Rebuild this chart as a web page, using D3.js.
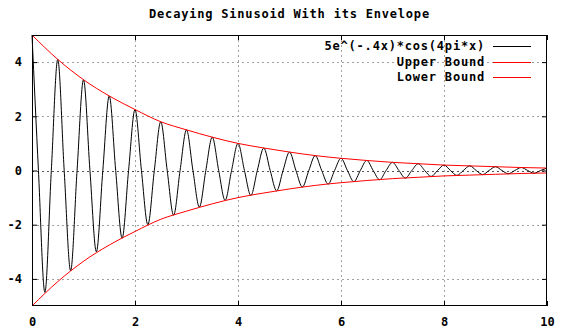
<!DOCTYPE html>
<html>
<head>
<meta charset="utf-8">
<script src="https://cdn.jsdelivr.net/npm/d3@7"></script>
<style>
  body { margin: 0; background: #fff; }
  text { font-family: "DejaVu Sans Mono", "Liberation Mono", monospace; font-weight: bold; }
</style>
</head>
<body>
<div id="chart"></div>
<script>
// values
const waveX = [0,0.125,0.25,0.375,0.5,0.625,0.75,0.875,1,1.125,1.25,1.375,1.5,1.625,1.75,1.875,2,2.125,2.25,2.375,2.5,2.625,2.75,2.875,3,3.125,3.25,3.375,3.5,3.625,3.75,3.875,4,4.125,4.25,4.375,4.5,4.625,4.75,4.875,5,5.125,5.25,5.375,5.5,5.625,5.75,5.875,6,6.125,6.25,6.375,6.5,6.625,6.75,6.875,7,7.125,7.25,7.375,7.5,7.625,7.75,7.875,8,8.125,8.25,8.375,8.5,8.625,8.75,8.875,9,9.125,9.25,9.375,9.5,9.625,9.75,9.875,10];
const waveY = [5,0,-4.5,0,4.1,0,-3.7,0,3.35,0,-3.0,0,2.75,0,-2.5,0,2.25,0,-2.0,0,1.8,0,-1.65,0,1.5,0,-1.35,0,1.23,0,-1.1,0,1.0,0,-0.92,0,0.83,0,-0.75,0,0.68,0,-0.61,0,0.55,0,-0.5,0,0.45,0,-0.41,0,0.37,0,-0.34,0,0.3,0,-0.28,0,0.25,0,-0.22,0,0.2,0,-0.18,0,0.17,0,-0.15,0,0.14,0,-0.12,0,0.11,0,-0.1,0,0.09];
const envX = [0,0.5,1,1.5,2,2.5,3,3.5,4,4.5,5,5.5,6,6.5,7,7.5,8,8.5,9,9.5,10];
const upperY = [5,4.1,3.35,2.75,2.25,1.8,1.5,1.23,1.0,0.83,0.68,0.55,0.45,0.37,0.3,0.25,0.2,0.17,0.14,0.11,0.09];
const lowerY = [-5,-4.1,-3.35,-2.75,-2.25,-1.8,-1.5,-1.23,-1.0,-0.83,-0.68,-0.55,-0.45,-0.37,-0.3,-0.25,-0.2,-0.17,-0.14,-0.11,-0.09];
const xTicks = [0,2,4,6,8,10];
const yTicks = [-4,-2,0,2,4];
const seriesNames = ["5e^(-.4x)*cos(4pi*x)", "Upper Bound", "Lower Bound"];
const seriesColors = ["#000000", "#ff0000", "#ff0000"];
const title = "Decaying Sinusoid With its Envelope";

const width = 562, height = 336;
const margin = {top: 35, right: 15, bottom: 30, left: 32};

const svg = d3.select("#chart").append("svg")
  .attr("width", width)
  .attr("height", height);

const x = d3.scaleLinear().domain([0, 10]).range([margin.left, width - margin.right]);
const y = d3.scaleLinear().domain([-5, 5]).range([height - margin.bottom, margin.top]);

// grid
const grid = svg.append("g").attr("stroke-dasharray", "2,3").attr("stroke-width", 1);
grid.selectAll(".gx")
  .data(xTicks.filter(d => d > 0 && d < 10))
  .enter().append("line")
    .attr("x1", d => Math.round(x(d)) + 0.5).attr("x2", d => Math.round(x(d)) + 0.5)
    .attr("y1", y(5)).attr("y2", y(-5))
    .attr("stroke", "#a0a0a0");
grid.selectAll(".gy")
  .data(yTicks)
  .enter().append("line")
    .attr("x1", x(0)).attr("x2", x(10))
    .attr("y1", d => Math.round(y(d)) + 0.5).attr("y2", d => Math.round(y(d)) + 0.5)
    .attr("stroke", d => d === 0 ? "#555" : "#a0a0a0");

// curves
const wave = waveX.map((d, i) => [d, waveY[i]]);
const upper = envX.map((d, i) => [d, upperY[i]]);
const lower = envX.map((d, i) => [d, lowerY[i]]);
const line = d3.line().x(d => x(d[0])).y(d => y(d[1])).curve(d3.curveMonotoneX);

const plot = svg.append("g");
plot.append("path").datum(wave)
  .attr("d", line).attr("fill", "none").attr("stroke", seriesColors[0]).attr("stroke-width", 1);
plot.append("path").datum(upper)
  .attr("d", line).attr("fill", "none").attr("stroke", seriesColors[1]).attr("stroke-width", 1);
plot.append("path").datum(lower)
  .attr("d", line).attr("fill", "none").attr("stroke", seriesColors[2]).attr("stroke-width", 1);

// axes, ticks pointing inward like gnuplot
const xb = svg.append("g").attr("transform", `translate(0,${y(-5)})`)
  .call(d3.axisBottom(x).tickValues(xTicks).tickSize(-5).tickPadding(11).tickFormat(d3.format("d")));
const yl = svg.append("g").attr("transform", `translate(${x(0)},0)`)
  .call(d3.axisLeft(y).tickValues(yTicks).tickSize(-5).tickPadding(10).tickFormat(d => d < 0 ? "-" + Math.abs(d) : d));
const xt = svg.append("g").attr("transform", `translate(0,${y(5)})`)
  .call(d3.axisTop(x).tickValues(xTicks).tickSize(-5).tickFormat(""));
const yr = svg.append("g").attr("transform", `translate(${x(10)},0)`)
  .call(d3.axisRight(y).tickValues(yTicks).tickSize(-5).tickFormat(""));
[xb, yl, xt, yr].forEach(g => {
  g.select(".domain").remove();
  g.selectAll("line").attr("stroke", "#000");
  g.selectAll("text").attr("font-size", 12).attr("font-family", null).attr("fill", "#000");
});

// border
svg.append("rect")
  .attr("x", x(0) + 0.5).attr("y", y(5) + 0.5)
  .attr("width", x(10) - x(0) - 1).attr("height", y(-5) - y(5) - 1)
  .attr("fill", "none").attr("stroke", "#000").attr("stroke-width", 1);

// title
svg.append("text")
  .attr("x", (x(0) + x(10)) / 2).attr("y", 18)
  .attr("text-anchor", "middle")
  .attr("font-size", 12)
  .attr("letter-spacing", "0.8px")
  .text(title);

// legend
const legend = svg.append("g");
seriesNames.forEach((name, i) => {
  const ly = 46 + i * 15.5;
  legend.append("text")
    .attr("x", 485).attr("y", ly).attr("dy", "0.35em")
    .attr("text-anchor", "end")
    .attr("font-size", 12)
    .attr("letter-spacing", "0.8px")
    .text(name);
  legend.append("line")
    .attr("x1", 493).attr("x2", 531)
    .attr("y1", Math.round(ly) + 0.5).attr("y2", Math.round(ly) + 0.5)
    .attr("stroke", seriesColors[i]).attr("stroke-width", 1);
});
</script>
</body>
</html>
